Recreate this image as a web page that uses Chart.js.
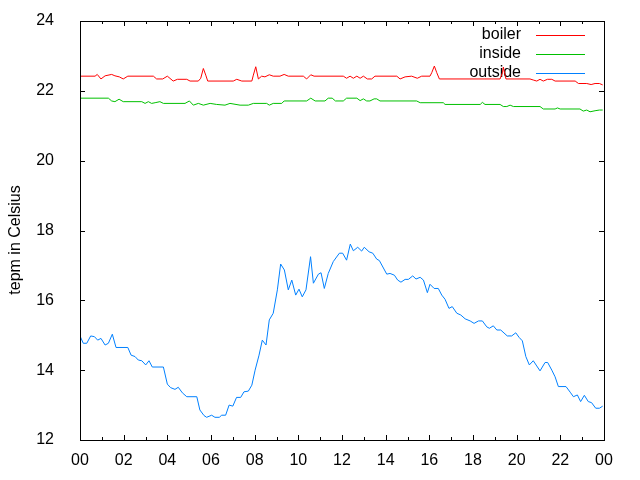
<!DOCTYPE html>
<html>
<head>
<meta charset="utf-8">
<script src="https://cdn.jsdelivr.net/npm/chart.js@4.4.1/dist/chart.umd.min.js"></script>
<style>
  html, body { margin: 0; padding: 0; background: #fff; }
  #wrap { width: 640px; height: 480px; }
</style>
</head>
<body>
<div id="wrap"><canvas id="tempChart" width="640" height="480"></canvas></div>
<script>
// hours of the day (decimal) and temperatures
const boilerHours = [0.00, 0.69, 0.79, 0.96, 1.15, 1.45, 1.60, 1.80, 1.98, 2.19, 3.36, 3.51, 3.79, 4.00, 4.27, 4.46, 4.89, 5.04, 5.42, 5.53, 5.65, 5.76, 5.85, 7.02, 7.18, 7.41, 7.87, 7.94, 8.05, 8.17, 8.32, 8.47, 8.67, 8.85, 9.16, 9.35, 9.54, 10.23, 10.38, 10.57, 10.72, 12.06, 12.21, 12.37, 12.52, 12.68, 12.83, 12.98, 13.16, 13.36, 13.51, 14.51, 14.66, 14.89, 15.19, 15.45, 15.65, 16.03, 16.11, 16.23, 16.34, 16.46, 19.24, 19.35, 19.39, 19.51, 20.61, 20.76, 20.92, 21.07, 21.22, 21.41, 21.61, 21.76, 22.68, 22.83, 23.21, 23.41, 23.59, 23.79, 23.94];
const boilerTemps = [22.42, 22.42, 22.47, 22.34, 22.43, 22.47, 22.43, 22.40, 22.34, 22.42, 22.42, 22.34, 22.34, 22.42, 22.28, 22.33, 22.33, 22.28, 22.28, 22.36, 22.64, 22.45, 22.28, 22.28, 22.33, 22.28, 22.28, 22.45, 22.69, 22.34, 22.42, 22.40, 22.46, 22.42, 22.42, 22.47, 22.42, 22.42, 22.34, 22.46, 22.42, 22.42, 22.36, 22.42, 22.36, 22.42, 22.36, 22.42, 22.34, 22.34, 22.42, 22.42, 22.34, 22.40, 22.42, 22.36, 22.42, 22.42, 22.52, 22.71, 22.52, 22.34, 22.34, 22.52, 22.68, 22.34, 22.34, 22.31, 22.28, 22.33, 22.28, 22.33, 22.33, 22.28, 22.28, 22.21, 22.21, 22.18, 22.21, 22.21, 22.17];

const insideHours = [0.00, 1.30, 1.45, 1.60, 1.79, 1.98, 2.83, 2.98, 3.13, 3.28, 3.44, 3.66, 3.82, 4.81, 5.01, 5.19, 5.42, 5.65, 5.96, 6.26, 6.64, 6.87, 7.33, 7.71, 7.94, 8.55, 8.67, 8.85, 9.24, 9.35, 10.38, 10.57, 10.77, 11.22, 11.37, 11.55, 11.70, 12.06, 12.21, 12.68, 12.83, 12.98, 13.13, 13.28, 13.47, 13.59, 13.74, 15.42, 15.58, 16.64, 16.72, 18.33, 18.43, 18.55, 19.24, 19.39, 19.55, 19.70, 19.85, 21.07, 21.22, 21.76, 21.87, 21.99, 22.90, 23.05, 23.21, 23.36, 23.59, 23.79, 23.94];
const insideTemps = [21.79, 21.79, 21.71, 21.69, 21.76, 21.69, 21.69, 21.64, 21.69, 21.64, 21.66, 21.69, 21.64, 21.64, 21.71, 21.59, 21.64, 21.59, 21.64, 21.61, 21.59, 21.64, 21.59, 21.59, 21.64, 21.64, 21.59, 21.64, 21.64, 21.71, 21.71, 21.79, 21.71, 21.71, 21.79, 21.79, 21.71, 21.71, 21.79, 21.79, 21.72, 21.77, 21.71, 21.71, 21.77, 21.77, 21.71, 21.71, 21.66, 21.66, 21.61, 21.61, 21.67, 21.61, 21.61, 21.55, 21.55, 21.59, 21.55, 21.55, 21.48, 21.48, 21.51, 21.48, 21.48, 21.42, 21.45, 21.40, 21.43, 21.45, 21.45];

const outsideHours = [0.00, 0.15, 0.31, 0.49, 0.66, 0.81, 0.96, 1.15, 1.30, 1.48, 1.65, 2.19, 2.34, 2.52, 2.67, 2.83, 3.01, 3.16, 3.31, 3.82, 4.00, 4.15, 4.35, 4.50, 4.69, 4.89, 5.35, 5.49, 5.68, 5.80, 6.03, 6.18, 6.38, 6.49, 6.67, 6.83, 7.00, 7.17, 7.36, 7.51, 7.71, 7.87, 8.02, 8.20, 8.35, 8.52, 8.67, 8.85, 9.04, 9.19, 9.36, 9.54, 9.70, 9.88, 10.03, 10.18, 10.35, 10.56, 10.69, 10.92, 11.04, 11.19, 11.37, 11.60, 11.88, 12.03, 12.21, 12.38, 12.52, 12.72, 12.90, 13.02, 13.24, 13.41, 13.59, 13.71, 14.05, 14.20, 14.40, 14.55, 14.70, 14.89, 15.04, 15.24, 15.39, 15.58, 15.73, 15.91, 16.03, 16.22, 16.41, 16.57, 16.72, 16.90, 17.05, 17.26, 17.44, 17.64, 17.87, 18.05, 18.25, 18.43, 18.63, 18.75, 18.93, 19.09, 19.27, 19.57, 19.77, 19.96, 20.11, 20.26, 20.42, 20.58, 20.76, 20.92, 21.07, 21.30, 21.42, 21.61, 21.76, 21.91, 22.26, 22.45, 22.60, 22.78, 22.93, 23.10, 23.28, 23.43, 23.62, 23.79, 23.94];
const outsideTemps = [14.98, 14.77, 14.77, 14.98, 14.96, 14.86, 14.91, 14.72, 14.77, 15.03, 14.65, 14.65, 14.43, 14.39, 14.29, 14.27, 14.15, 14.27, 14.09, 14.09, 13.60, 13.50, 13.45, 13.51, 13.35, 13.24, 13.24, 12.86, 12.70, 12.65, 12.71, 12.65, 12.65, 12.71, 12.71, 13.00, 12.97, 13.22, 13.22, 13.38, 13.40, 13.57, 14.00, 14.43, 14.86, 14.72, 15.44, 15.63, 16.30, 17.04, 16.87, 16.30, 16.58, 16.15, 16.32, 16.10, 16.30, 17.25, 16.49, 16.75, 16.79, 16.34, 16.77, 17.11, 17.35, 17.35, 17.15, 17.61, 17.42, 17.52, 17.41, 17.52, 17.39, 17.35, 17.18, 17.14, 16.75, 16.77, 16.72, 16.58, 16.52, 16.60, 16.60, 16.70, 16.61, 16.66, 16.58, 16.22, 16.46, 16.34, 16.34, 16.15, 16.03, 15.77, 15.82, 15.63, 15.58, 15.47, 15.41, 15.34, 15.41, 15.41, 15.24, 15.20, 15.27, 15.15, 15.15, 14.98, 14.98, 15.07, 14.94, 14.84, 14.39, 14.15, 14.27, 14.12, 13.98, 14.22, 14.22, 14.00, 13.81, 13.53, 13.53, 13.37, 13.24, 13.29, 13.10, 13.28, 13.10, 13.07, 12.91, 12.91, 12.97];

const seriesNames = ["boiler", "inside", "outside"];
const seriesColors = ["#ff0000", "#00c000", "#0080ff"];
const yLabel = "tepm in Celsius";

const FONT = "Liberation Sans";

function toPoints(hours, temps) {
    return hours.map((h, i) => ({ x: h, y: temps[i] }));
}

// gnuplot style key: right aligned text, line sample to the right
const keyPlugin = {
    id: "gnuKey",
    beforeDatasetsDraw(chart) {
        const ctx = chart.ctx;
        const area = chart.chartArea;
        ctx.save();
        ctx.font = "16px '" + FONT + "'";
        ctx.textAlign = "right";
        ctx.textBaseline = "middle";
        chart.data.datasets.forEach((ds, i) => {
            const y = Math.round(area.top + 14 + i * 19);
            ctx.fillStyle = "#000";
            ctx.fillText(ds.label, area.right - 83, y);
            ctx.strokeStyle = ds.borderColor;
            ctx.lineWidth = 1;
            ctx.beginPath();
            ctx.moveTo(area.right - 68, y + 0.5);
            ctx.lineTo(area.right - 19, y + 0.5);
            ctx.stroke();
        });
        ctx.restore();
    }
};

// border box with inward ticks on all four sides, plus the y label
const frameTicks = {
    id: "frameTicks",
    afterDatasetsDraw(chart) {
        const ctx = chart.ctx;
        const a = chart.chartArea;
        const xs = chart.scales.x;
        const ys = chart.scales.y;
        ctx.save();
        ctx.strokeStyle = "#000";
        ctx.lineWidth = 1;
        ctx.beginPath();
        for (let h = 0; h <= 24; h++) {
            const px = Math.round(xs.getPixelForValue(h)) + 0.5;
            const len = h % 2 === 0 ? 5 : 3;
            ctx.moveTo(px, a.bottom);
            ctx.lineTo(px, a.bottom - len);
            ctx.moveTo(px, a.top);
            ctx.lineTo(px, a.top + len);
        }
        for (let t = 12; t <= 24; t += 2) {
            const py = Math.round(ys.getPixelForValue(t)) + 0.5;
            ctx.moveTo(a.left, py);
            ctx.lineTo(a.left + 5, py);
            ctx.moveTo(a.right, py);
            ctx.lineTo(a.right - 5, py);
        }
        ctx.stroke();
        ctx.strokeRect(Math.round(a.left) + 0.5, Math.round(a.top) + 0.5,
            Math.round(a.right - a.left), Math.round(a.bottom - a.top));

        // y axis label, centred on the canvas like gnuplot does
        ctx.translate(16, chart.height / 2);
        ctx.rotate(-Math.PI / 2);
        ctx.font = "16px '" + FONT + "'";
        ctx.fillStyle = "#000";
        ctx.textAlign = "center";
        ctx.textBaseline = "middle";
        ctx.fillText(yLabel, 0, 0);
        ctx.restore();
    }
};

const ctx = document.getElementById("tempChart").getContext("2d");
const tempChart = new Chart(ctx, {
    type: "line",
    data: {
        datasets: [
            { label: seriesNames[0], data: toPoints(boilerHours, boilerTemps) },
            { label: seriesNames[1], data: toPoints(insideHours, insideTemps) },
            { label: seriesNames[2], data: toPoints(outsideHours, outsideTemps) }
        ].map((ds, i) => Object.assign(ds, {
            borderColor: seriesColors[i],
            backgroundColor: seriesColors[i],
            borderWidth: 1,
            pointRadius: 0,
            tension: 0,
            fill: false
        }))
    },
    options: {
        responsive: false,
        animation: false,
        devicePixelRatio: 1,
        layout: { padding: { top: 21, right: 36, bottom: 0, left: 0 } },
        scales: {
            x: {
                type: "linear",
                min: 0,
                max: 24,
                grid: { display: false },
                border: { display: false },
                afterFit: (scale) => {
                    scale.height = 40;
                    scale.paddingLeft = 0;
                    scale.paddingRight = 0;
                },
                ticks: {
                    stepSize: 2,
                    padding: 3,
                    color: "#000",
                    font: { family: FONT, size: 16 },
                    maxRotation: 0,
                    callback: (v) => String(v % 24).padStart(2, "0")
                }
            },
            y: {
                min: 12,
                max: 24,
                grid: { display: false },
                border: { display: false },
                afterFit: (scale) => {
                    scale.width = 80;
                    scale.paddingTop = 0;
                    scale.paddingBottom = 0;
                },
                ticks: {
                    stepSize: 2,
                    padding: 18,
                    color: "#000",
                    font: { family: FONT, size: 16 }
                }
            }
        },
        plugins: {
            legend: { display: false },
            tooltip: { enabled: false }
        }
    },
    plugins: [keyPlugin, frameTicks]
});
</script>
</body>
</html>
